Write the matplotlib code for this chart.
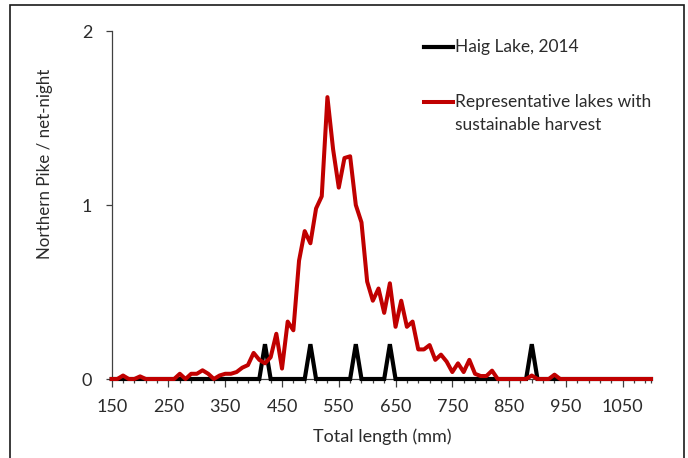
import matplotlib
matplotlib.use("Agg")
import matplotlib.pyplot as plt
from matplotlib.lines import Line2D
from matplotlib.patches import Rectangle
from matplotlib.ticker import FixedLocator
import numpy as np

plt.rcParams['font.family'] = ['Lato', 'DejaVu Sans']

# Total length bins (mm), 10-mm classes
lengths = list(range(150, 1101, 10))

# Representative lakes with sustainable harvest (Northern Pike / net-night)
representative = [
    0, 0, 0.02, 0, 0, 0.015, 0, 0, 0, 0,            # 150-240
    0, 0, 0.03, 0, 0.03, 0.03, 0.05, 0.03, 0, 0.02,  # 250-340
    0.03, 0.03, 0.04, 0.065, 0.08, 0.15, 0.11, 0.09, 0.125, 0.26,  # 350-440
    0.06, 0.33, 0.28, 0.68, 0.85, 0.78, 0.98, 1.05, 1.62, 1.32,   # 450-540
    1.10, 1.27, 1.28, 1.00, 0.90, 0.56, 0.45, 0.52, 0.38, 0.55,   # 550-640
    0.30, 0.45, 0.30, 0.33, 0.17, 0.17, 0.195, 0.11, 0.14, 0.10,  # 650-740
    0.04, 0.09, 0.04, 0.11, 0.03, 0.017, 0.017, 0.048, 0, 0,      # 750-840
    0, 0, 0, 0, 0.02, 0, 0, 0, 0.025, 0,                          # 850-940
    0, 0, 0, 0, 0, 0, 0, 0, 0, 0,                                 # 950-1040
    0, 0, 0, 0, 0, 0,                                             # 1050-1100
]

# Haig Lake, 2014
haig_peaks = {420: 0.2, 500: 0.2, 580: 0.2, 640: 0.2, 890: 0.2}
haig = [haig_peaks.get(L, 0) for L in lengths]

xtick_labels = list(range(150, 1051, 100))
yticks = [0, 1, 2]

W, H = 688, 458
fig = plt.figure(figsize=(W / 100, H / 100), dpi=100)
ax = fig.add_axes([111.7 / W, (H - 379) / H, (651 - 111.7) / W, (379 - 31) / H])

txt_col = '#2b2b2b'
ax.plot(lengths, haig, color='black', lw=3.0, solid_joinstyle='miter', zorder=3,
        clip_on=False)
ax.plot(lengths, representative, color='#C00000', lw=2.9, zorder=4, clip_on=False)

ax.set_xlim(150, 1100)
ax.set_ylim(0, 2)
for s in ['top', 'right']:
    ax.spines[s].set_visible(False)
for s in ['left', 'bottom']:
    ax.spines[s].set_color('#404040')
    ax.spines[s].set_linewidth(0.9)

ax.set_xticks(xtick_labels)
ax.set_xticklabels([str(v) for v in xtick_labels])
ax.xaxis.set_minor_locator(FixedLocator(list(range(150, 1100, 20)) + [1100]))
ax.set_yticks(yticks)
ax.set_yticklabels([str(v) for v in yticks])
ax.tick_params(axis='x', which='major', direction='out', length=5.5, width=0.9,
               color='#404040', labelsize=13, labelcolor=txt_col, pad=9)
ax.tick_params(axis='x', which='minor', direction='out', length=2.6, width=0.9,
               color='#404040')
ax.tick_params(axis='y', which='major', direction='out', length=4, width=0.9,
               color='#404040', labelsize=13, labelcolor=txt_col, pad=10)

fig.text(382 / W, (H - 437) / H, 'Total length (mm)', ha='center', va='center',
         fontsize=13, color=txt_col)
fig.text(45 / W, (H - 164) / H, 'Northern Pike / net-night', ha='center', va='center',
         rotation=90, fontsize=12.2, color=txt_col)

# legend
def fx(px):
    return px / W

def fy(py):
    return (H - py) / H

fig.add_artist(Line2D([fx(424), fx(452.5)], [fy(47), fy(47)], color='black', lw=3.0))
fig.text(fx(455), fy(47), 'Haig Lake, 2014', ha='left', va='center', fontsize=12.5,
         color=txt_col)
fig.add_artist(Line2D([fx(424), fx(452.5)], [fy(102), fy(102)], color='#C00000', lw=2.9))
fig.text(fx(455), fy(102), 'Representative lakes with', ha='left', va='center',
         fontsize=12.5, color=txt_col)
fig.text(fx(455), fy(125), 'sustainable harvest', ha='left', va='center',
         fontsize=12.5, color=txt_col)

# chart border
fig.add_artist(Rectangle((fx(10), fy(470)), fx(684) - fx(10), fy(5) - fy(470),
                         fill=False, edgecolor='#1a1a1a', lw=1.2,
                         transform=fig.transFigure))

fig.savefig('out.png', dpi=100)
